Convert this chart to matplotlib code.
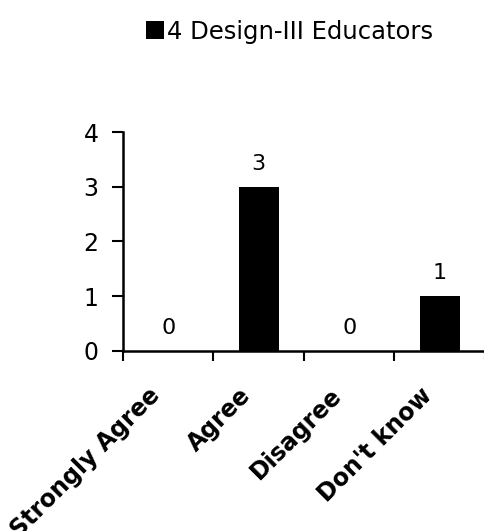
import matplotlib
matplotlib.use("Agg")
import matplotlib.pyplot as plt
import matplotlib.transforms as mtransforms
from matplotlib.patches import Patch

categories = ["Strongly Agree", "Agree", "Disagree", "Don't know"]
counts = [0, 3, 0, 1]
series_label = "4 Design-III Educators"
y_ticks = [0, 1, 2, 3, 4]

plt.rcParams["font.family"] = ["DejaVu Sans"]

fig = plt.figure(figsize=(4.85, 5.31), dpi=100)
ax = fig.add_axes([0.2536, 0.339, 0.7464, 0.4124])

x = list(range(len(categories)))
ax.bar(x, counts, width=0.44, color="black")
for xi, v in zip(x, counts):
    ax.text(xi, v + 0.31, str(v), ha="center", va="baseline", fontsize=16)

ax.set_xlim(-0.5, len(categories) - 0.5)
ax.set_ylim(0, 4)
ax.set_yticks(y_ticks)
ax.set_yticklabels([str(t) for t in y_ticks], fontsize=17)

# tick marks sit on the category boundaries
ax.set_xticks([i - 0.5 for i in range(len(categories) + 1)])
ax.set_xticklabels([])

# slanted category names below each bar slot
label_tr = mtransforms.offset_copy(ax.get_xaxis_transform(), fig=fig,
                                   x=-20, y=-32, units="dots")
for xi, cat in zip(x, categories):
    ax.text(xi, 0, cat, transform=label_tr, rotation=45,
            rotation_mode="anchor", ha="right", va="top",
            fontsize=17, fontweight="bold", clip_on=False)

ax.tick_params(axis="x", length=7.5, width=1.5, direction="out")
ax.tick_params(axis="y", length=8, width=1.5, direction="out", pad=9.5)

for side in ("top", "right"):
    ax.spines[side].set_visible(False)
for side in ("left", "bottom"):
    ax.spines[side].set_linewidth(1.8)

fig.legend(handles=[Patch(facecolor="black", label=series_label)],
           loc="center", bbox_to_anchor=(0.597, 0.94), frameon=False,
           fontsize=17.5, handlelength=0.75, handleheight=0.75,
           handletextpad=0.15)

fig.savefig("out.png", dpi=100)
